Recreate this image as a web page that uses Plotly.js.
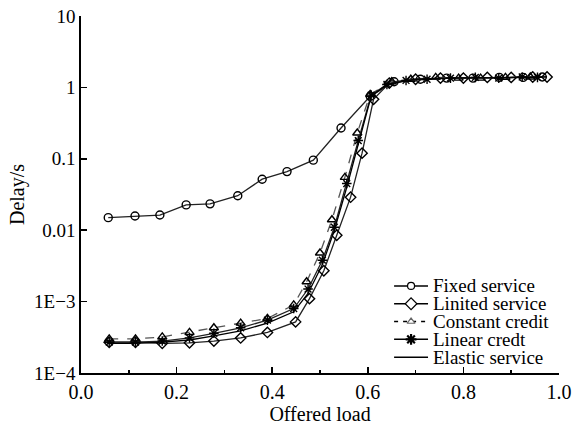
<!DOCTYPE html>
<html><head><meta charset="utf-8">
<script src="https://cdn.plot.ly/plotly-3.0.1.min.js"></script>
<style>html,body{margin:0;padding:0;background:#fff;}#chart{width:573px;height:425px;}</style>
</head><body><div id="chart"></div>
<script>
// ---- data ----
const seriesNames = ["Fixed service", "Linited service", "Constant credit", "Linear credt", "Elastic service"];

const fixedX = [0.057,0.113,0.165,0.22,0.27,0.328,0.379,0.431,0.486,0.544,0.605,0.655,0.71,0.765,0.82,0.875,0.925,0.965];
const fixedY = [0.015,0.0158,0.0163,0.0226,0.0234,0.0304,0.0518,0.0662,0.0957,0.27,0.75,1.2,1.3,1.35,1.35,1.38,1.38,1.4];

const limitedX = [0.059,0.114,0.17,0.227,0.278,0.334,0.39,0.449,0.478,0.508,0.535,0.564,0.588,0.612,0.645,0.7,0.752,0.8,0.85,0.9,0.945,0.975];
const limitedY = [2.7e-4,2.7e-4,2.6e-4,2.65e-4,2.8e-4,3.1e-4,3.7e-4,5.2e-4,1.1e-3,2.7e-3,8.5e-3,0.029,0.12,0.68,1.15,1.3,1.35,1.35,1.38,1.38,1.4,1.4];

const constantX = [0.059,0.114,0.17,0.227,0.278,0.334,0.39,0.445,0.472,0.5,0.525,0.552,0.578,0.605,0.65,0.69,0.742,0.79,0.836,0.888,0.94];
const constantY = [3.0e-4,3.0e-4,3.2e-4,3.7e-4,4.3e-4,5.0e-4,5.8e-4,9.0e-4,1.9e-3,4.8e-3,0.014,0.055,0.23,0.8,1.2,1.3,1.38,1.35,1.35,1.38,1.4];

const linearX = [0.059,0.114,0.17,0.227,0.278,0.334,0.39,0.445,0.475,0.505,0.53,0.556,0.58,0.607,0.64,0.68,0.724,0.773,0.825,0.874,0.923,0.955];
const linearY = [2.7e-4,2.7e-4,2.8e-4,3.1e-4,3.6e-4,4.3e-4,5.5e-4,8.0e-4,1.5e-3,3.8e-3,0.011,0.045,0.18,0.78,1.1,1.25,1.3,1.35,1.38,1.35,1.4,1.38];

const elasticX = [0.059,0.114,0.17,0.227,0.278,0.334,0.39,0.445,0.475,0.505,0.53,0.556,0.58,0.607,0.64,0.7,0.76,0.82,0.88,0.94,0.975];
const elasticY = [2.6e-4,2.6e-4,2.7e-4,2.9e-4,3.3e-4,3.9e-4,5.0e-4,7.2e-4,1.3e-3,3.3e-3,0.01,0.04,0.16,0.75,1.1,1.3,1.35,1.35,1.38,1.38,1.4];

const yTickVals = [1e-4, 1e-3, 0.01, 0.1, 1, 10];
const yTickText = ["1E\u22124", "1E\u22123", "0.01", "0.1", "1", "10"];
const xTitle = "Offered load";
const yTitle = "Delay/s";

// ---- styles ----
const FONT = "Liberation Serif, Times New Roman, serif";
const symbols = ["circle-open", "diamond-open", "triangle-up-open", "asterisk-open", null];
const dashes = ["solid", "solid", "dash", "solid", "solid"];
const lineColors = ["#222", "#222", "#555", "#222", "#000"];
const legendSymbols = ["circle", "diamond", "triangle-up", "asterisk-open", null];
const legendMarkerColor = ["#fff", "#fff", "#fff", "#000", "#fff"];
const legendMarkerSize = [7, 9, 7, 9, 0];
const dataX = [fixedX, limitedX, constantX, linearX, elasticX];
const dataY = [fixedY, limitedY, constantY, linearY, elasticY];

const traces = [];
for (let i = 0; i < seriesNames.length; i++) {
  traces.push({
    type: "scatter", name: seriesNames[i], x: dataX[i], y: dataY[i],
    mode: symbols[i] ? "lines+markers" : "lines",
    line: {color: lineColors[i], width: 1.3, dash: dashes[i]},
    marker: {symbol: symbols[i] || "circle", size: 8, color: "#000", line: {color: "#000", width: 1.4}},
    showlegend: false
  });
}

// ---- custom compact legend (positions in plot-area fractions) ----
const LG = {x0: 0.655, x1: 0.726, textX: 0.733, top: 0.244, step: 0.0499};
const annotations = [];
for (let i = 0; i < seriesNames.length; i++) {
  const ry = LG.top - i * LG.step;
  const mid = (LG.x0 + LG.x1) / 2;
  traces.push({
    type: "scatter", xaxis: "x2", yaxis: "y2", mode: "lines", showlegend: false,
    x: [LG.x0, LG.x1], y: [ry, ry],
    line: {color: "#000", width: 1.5, dash: i === 2 ? "4px,5px" : "solid"}
  });
  if (legendSymbols[i]) {
    traces.push({
      type: "scatter", xaxis: "x2", yaxis: "y2", mode: "markers", showlegend: false,
      x: [mid], y: [ry],
      marker: {symbol: legendSymbols[i], size: legendMarkerSize[i], color: legendMarkerColor[i],
               line: {color: i === 2 ? "#666" : "#000", width: i === 3 ? 2.2 : 1.2}}
    });
  }
  annotations.push({
    xref: "paper", yref: "paper", x: LG.textX, y: ry, xanchor: "left", yanchor: "middle",
    text: seriesNames[i], showarrow: false,
    font: {family: FONT, size: 19, color: "#000"}
  });
}

const layout = {
  width: 573, height: 425,
  margin: {l: 81, r: 14, t: 16, b: 52},
  paper_bgcolor: "#fff", plot_bgcolor: "#fff",
  font: {family: FONT, size: 18, color: "#000"},
  showlegend: false,
  annotations: annotations,
  xaxis: {
    range: [0, 1], dtick: 0.2, tick0: 0, tickformat: ".1f",
    ticks: "inside", ticklen: 6, tickwidth: 1.5, tickcolor: "#000",
    minor: {dtick: 0.1, tick0: 0, ticks: "inside", ticklen: 3, tickwidth: 1.5, tickcolor: "#000"},
    showline: true, linecolor: "#000", linewidth: 1.8, mirror: false,
    showgrid: false, zeroline: false,
    tickfont: {family: FONT, size: 20, color: "#000"},
    title: {text: xTitle, font: {family: FONT, size: 20, color: "#000"}, standoff: 2}
  },
  yaxis: {
    type: "log", range: [-4, 1],
    tickmode: "array", tickvals: yTickVals, ticktext: yTickText,
    ticks: "inside", ticklen: 6, tickwidth: 1.5, tickcolor: "#000",
    showline: true, linecolor: "#000", linewidth: 1.8, mirror: false,
    showgrid: false, zeroline: false,
    tickfont: {family: FONT, size: 19, color: "#000"},
    title: {text: yTitle, font: {family: FONT, size: 20, color: "#000"}, standoff: 4}
  },
  xaxis2: {overlaying: "x", anchor: "y2", range: [0, 1], visible: false, fixedrange: true},
  yaxis2: {overlaying: "y", anchor: "x2", range: [0, 1], visible: false, fixedrange: true}
};
Plotly.newPlot("chart", traces, layout, {displayModeBar: false, staticPlot: true});
</script>
</body></html>
